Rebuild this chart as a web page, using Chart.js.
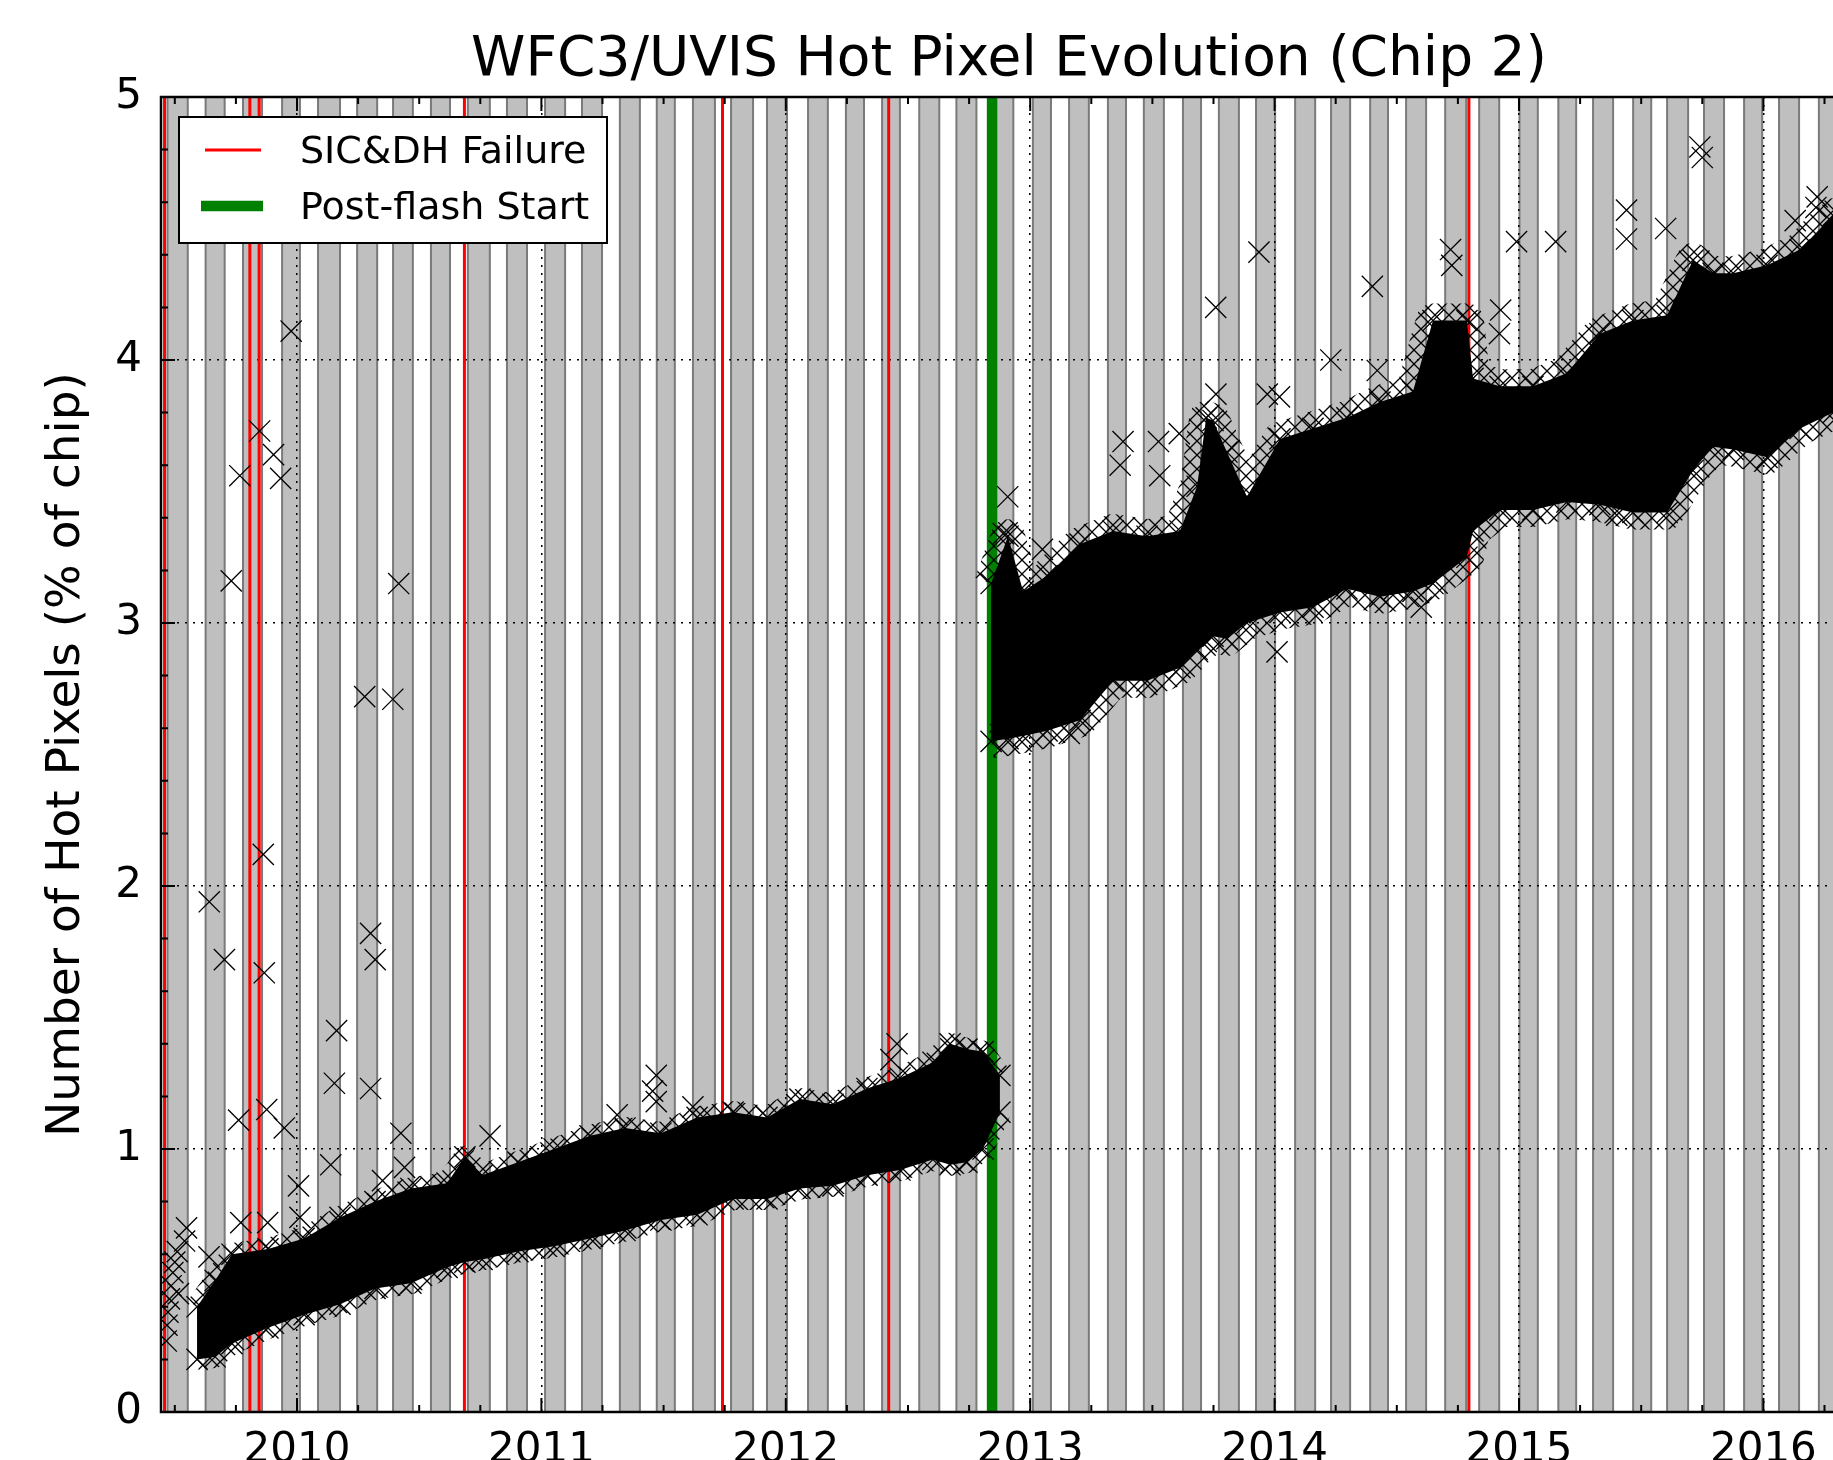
<!DOCTYPE html>
<html>
<head>
<meta charset="utf-8">
<script src="https://cdn.jsdelivr.net/npm/chart.js@4.4.0/dist/chart.umd.min.js"></script>
<style>
html, body { margin: 0; padding: 0; background: #fff; overflow: hidden; }
#chart { display: block; }
</style>
</head>
<body>
<canvas id="chart" width="2018" height="1520" style="width:2018px;height:1520px"></canvas>
<script>
const FONT = "'DejaVu Sans', 'Liberation Sans', sans-serif";

const yearTicks = [2010, 2011, 2012, 2013, 2014, 2015, 2016];
const valueTicks = [0, 1, 2, 3, 4, 5];

// shaded anneal cycles (every other cycle), decimal years
const annealStart = [2009.470, 2009.626, 2009.779, 2009.939, 2010.086, 2010.246, 2010.393, 2010.548, 2010.699,
  2010.859, 2011.015, 2011.166, 2011.321, 2011.472, 2011.620, 2011.776, 2011.923, 2012.091, 2012.246, 2012.394,
  2012.546, 2012.698, 2012.850, 2013.011, 2013.159, 2013.318, 2013.465, 2013.625, 2013.772, 2013.924, 2014.084,
  2014.231, 2014.391, 2014.538, 2014.698, 2014.837, 2015.002, 2015.161, 2015.303, 2015.467, 2015.606, 2015.757,
  2015.921, 2016.064, 2016.227];
const annealEnd = [2009.553, 2009.704, 2009.857, 2010.012, 2010.176, 2010.328, 2010.474, 2010.626, 2010.789,
  2010.941, 2011.097, 2011.248, 2011.403, 2011.546, 2011.710, 2011.866, 2012.005, 2012.172, 2012.320, 2012.467,
  2012.628, 2012.780, 2012.931, 2013.085, 2013.240, 2013.392, 2013.547, 2013.699, 2013.854, 2014.002, 2014.166,
  2014.309, 2014.464, 2014.620, 2014.784, 2014.919, 2015.077, 2015.234, 2015.385, 2015.541, 2015.692, 2015.839,
  2015.995, 2016.146, 2016.310];

const sicdhFailures = [2009.458, 2009.807, 2009.845, 2010.685, 2011.741, 2012.421, 2014.795];
const postFlashStart = [2012.844];

// dense band of measurements before post-flash: lower / upper edge
const preTime = [2009.591, 2009.665, 2009.734, 2009.881, 2010.029, 2010.176, 2010.319, 2010.466, 2010.614, 2010.687,
  2010.757, 2010.904, 2011.052, 2011.199, 2011.342, 2011.489, 2011.637, 2011.784, 2011.923, 2012.058,
  2012.193, 2012.332, 2012.467, 2012.602, 2012.672, 2012.741, 2012.807, 2012.876];
const preLow = [0.20, 0.21, 0.26, 0.32, 0.37, 0.41, 0.47, 0.49, 0.55, 0.57,
  0.58, 0.61, 0.63, 0.66, 0.69, 0.73, 0.75, 0.81, 0.81, 0.85,
  0.86, 0.90, 0.92, 0.96, 0.94, 0.95, 1.00, 1.14];
const preHigh = [0.40, 0.50, 0.60, 0.62, 0.66, 0.74, 0.80, 0.85, 0.87, 0.97,
  0.90, 0.95, 1.00, 1.05, 1.08, 1.06, 1.12, 1.14, 1.12, 1.19,
  1.17, 1.23, 1.27, 1.33, 1.40, 1.38, 1.37, 1.28];

// dense band after post-flash start
const postTime = [2012.840, 2012.909, 2012.971, 2013.069, 2013.204, 2013.339, 2013.478, 2013.613, 2013.683, 2013.720,
  2013.748, 2013.805, 2013.887, 2014.022, 2014.157, 2014.296, 2014.431, 2014.566, 2014.648, 2014.787,
  2014.812, 2014.922, 2015.057, 2015.196, 2015.331, 2015.466, 2015.606, 2015.712, 2015.794, 2015.876,
  2016.015, 2016.150, 2016.285, 2016.350];
const postLow = [2.55, 2.56, 2.57, 2.59, 2.63, 2.78, 2.78, 2.83, 2.90, 2.93,
  2.95, 2.94, 3.00, 3.04, 3.06, 3.13, 3.10, 3.12, 3.15, 3.25,
  3.35, 3.43, 3.43, 3.46, 3.45, 3.42, 3.42, 3.58, 3.67, 3.66,
  3.63, 3.74, 3.80, 3.82];
const postHigh = [3.15, 3.33, 3.12, 3.18, 3.30, 3.35, 3.33, 3.35, 3.52, 3.78,
  3.77, 3.65, 3.48, 3.70, 3.74, 3.78, 3.84, 3.88, 4.15, 4.15,
  3.93, 3.90, 3.90, 3.95, 4.10, 4.15, 4.17, 4.38, 4.33, 4.33,
  4.36, 4.42, 4.55, 4.55];

// isolated measurements
const outlierTime = [2009.465, 2009.468, 2009.472, 2009.478, 2009.485, 2009.492, 2009.500, 2009.510, 2009.515, 2009.540,
  2009.548, 2009.640, 2009.641, 2009.703, 2009.731, 2009.766, 2009.847, 2009.862, 2009.866, 2009.904,
  2009.933, 2009.976, 2010.416, 2010.277, 2010.392, 2010.301, 2010.320, 2010.162, 2010.153, 2010.301,
  2010.138, 2009.876, 2009.761, 2009.948, 2010.425, 2010.006, 2010.012, 2009.770, 2009.880, 2010.440,
  2010.350, 2010.790, 2011.310, 2011.470, 2011.470, 2011.455, 2011.620, 2012.455, 2012.430,
  2012.908, 2012.890, 2013.050, 2013.160, 2013.368, 2013.380, 2013.525, 2013.610, 2013.530, 2013.760,
  2013.759, 2013.936, 2013.970, 2014.020, 2014.010, 2014.230, 2014.400, 2014.420, 2014.490, 2014.600,
  2014.720, 2014.725, 2014.920, 2014.925, 2014.990, 2015.150, 2015.400, 2015.440, 2015.440, 2015.600,
  2015.740, 2015.750, 2016.130, 2016.220, 2016.215];
const outlierValue = [0.27, 0.33, 0.38, 0.43, 0.48, 0.53, 0.57, 0.61, 0.45, 0.65,
  0.70, 0.59, 1.94, 1.72, 3.16, 3.56, 3.73, 2.12, 1.67, 3.64,
  3.55, 4.11, 3.15, 2.72, 2.71, 1.82, 1.72, 1.45, 1.25, 1.23,
  0.94, 1.15, 1.11, 1.08, 1.06, 0.86, 0.74, 0.72, 0.72, 0.93,
  0.88, 1.05, 1.13, 1.28, 1.18, 1.22, 1.16, 1.40, 1.34,
  3.48, 3.34, 3.28, 2.58, 3.60, 3.69, 3.69, 3.72, 3.56, 3.87,
  4.20, 4.41, 3.87, 3.86, 2.89, 4.00, 4.28, 3.96, 3.13, 3.06,
  4.42, 4.36, 4.10, 4.19, 4.45, 4.45, 3.41, 4.57, 4.46, 4.50,
  4.81, 4.77, 4.53, 4.62, 4.58];

const xy = (ts, vs) => ts.map((t, i) => ({ x: t, y: vs[i] }));
const vLines = ts => ts.flatMap(t => [{ x: t, y: 0 }, { x: t, y: 5 }, { x: t, y: null }]);

// crossed-line texture for the fuzzy rim of the dense bands (overlapping x markers)
const hatchTile = document.createElement('canvas');
hatchTile.width = hatchTile.height = 14;
const hctx = hatchTile.getContext('2d');
hctx.strokeStyle = '#000';
hctx.lineWidth = 1.3;
hctx.beginPath();
hctx.moveTo(0, 0); hctx.lineTo(14, 14);
hctx.moveTo(14, 0); hctx.lineTo(0, 14);
hctx.stroke();
const rim = hctx.createPattern(hatchTile, 'repeat');

const cloudStyle = (width) => ({
  borderWidth: width,
  borderColor: rim,
  borderJoinStyle: 'round',
  backgroundColor: '#000',
  pointStyle: 'crossRot',
  pointRadius: 15,
  pointBorderColor: '#000',
  pointBorderWidth: 1.3,
  tension: 0,
  order: 5
});

// gray anneal bands under the grid
const bands = {
  id: 'bands',
  beforeDraw(chart) {
    const { ctx, chartArea: a, scales: { x } } = chart;
    ctx.save();
    ctx.beginPath();
    ctx.rect(a.left, a.top, a.right - a.left, a.bottom - a.top);
    ctx.clip();
    annealStart.forEach((s, i) => {
      const x0 = x.getPixelForValue(s), x1 = x.getPixelForValue(annealEnd[i]);
      ctx.fillStyle = '#bfbfbf';
      ctx.fillRect(x0, a.top, x1 - x0, a.bottom - a.top);
      ctx.strokeStyle = '#7a7a7a';
      ctx.lineWidth = 2;
      ctx.beginPath();
      ctx.moveTo(x0, a.top); ctx.lineTo(x0, a.bottom);
      ctx.moveTo(x1, a.top); ctx.lineTo(x1, a.bottom);
      ctx.stroke();
    });
    ctx.restore();
  }
};

// frame, inward ticks and the boxed legend
const frame = {
  id: 'frame',
  afterDraw(chart) {
    const { ctx, chartArea: a, scales: { x, y } } = chart;
    ctx.save();
    ctx.strokeStyle = '#000';
    ctx.lineWidth = 2;
    ctx.beginPath();
    const xTick = (v, len) => {
      const px = x.getPixelForValue(v);
      if (px < a.left || px > a.right) return;
      ctx.moveTo(px, a.bottom); ctx.lineTo(px, a.bottom - len);
      ctx.moveTo(px, a.top); ctx.lineTo(px, a.top + len);
    };
    const yTick = (v, len) => {
      const py = y.getPixelForValue(v);
      ctx.moveTo(a.left, py); ctx.lineTo(a.left + len, py);
      ctx.moveTo(a.right, py); ctx.lineTo(a.right - len, py);
    };
    [2009].concat(yearTicks).forEach(yr => {
      xTick(yr, 14);
      [0.25, 0.5, 0.75].forEach(q => xTick(yr + q, 7));
    });
    valueTicks.forEach(v => {
      yTick(v, 14);
      if (v < 5) [0.2, 0.4, 0.6, 0.8].forEach(q => yTick(v + q, 7));
    });
    ctx.stroke();
    ctx.lineWidth = 2.5;
    ctx.strokeRect(a.left, a.top, a.right - a.left, a.bottom - a.top);

    const ds = chart.data.datasets;
    const L = { x: a.left + 18, y: a.top + 20, w: 428, h: 126 };
    ctx.fillStyle = '#fff';
    ctx.fillRect(L.x, L.y, L.w, L.h);
    ctx.lineWidth = 2;
    ctx.strokeStyle = '#000';
    ctx.strokeRect(L.x, L.y, L.w, L.h);
    const rows = [
      { d: ds[0], x0: 26, x1: 82, y: 33 },
      { d: ds[1], x0: 22, x1: 84, y: 89 }
    ];
    ctx.font = '38px ' + FONT;
    ctx.textBaseline = 'middle';
    ctx.textAlign = 'left';
    rows.forEach(r => {
      ctx.strokeStyle = r.d.borderColor;
      ctx.lineWidth = r.d.borderWidth;
      ctx.beginPath();
      ctx.moveTo(L.x + r.x0, L.y + r.y);
      ctx.lineTo(L.x + r.x1, L.y + r.y);
      ctx.stroke();
      ctx.fillStyle = '#000';
      ctx.fillText(r.d.label, L.x + 121, L.y + r.y + 3);
    });
    ctx.restore();
  }
};

new Chart(document.getElementById('chart'), {
  type: 'line',
  data: {
    datasets: [
      { label: 'SIC&DH Failure', data: vLines(sicdhFailures), borderColor: '#ff0000', borderWidth: 3,
        pointRadius: 0, spanGaps: false, fill: false, order: 10 },
      { label: 'Post-flash Start', data: vLines(postFlashStart), borderColor: '#008000', borderWidth: 10.5,
        pointRadius: 0, spanGaps: false, fill: false, order: 9 },
      { label: 'pre low', data: xy(preTime, preLow), fill: false, ...cloudStyle(22) },
      { label: 'pre high', data: xy(preTime, preHigh), fill: '-1', ...cloudStyle(22) },
      { label: 'post low', data: xy(postTime, postLow), fill: false, ...cloudStyle(34) },
      { label: 'post high', data: xy(postTime, postHigh), fill: '-1', ...cloudStyle(34) },
      { label: 'outliers', data: xy(outlierTime, outlierValue), showLine: false, fill: false,
        pointStyle: 'crossRot', pointRadius: 15, pointBorderColor: '#000', pointBorderWidth: 1.3, order: 1 }
    ]
  },
  options: {
    responsive: false,
    animation: false,
    events: [],
    devicePixelRatio: 1,
    layout: { padding: { left: 0, right: 161, top: 0, bottom: 0 } },
    plugins: {
      legend: { display: false },
      tooltip: { enabled: false },
      title: {
        display: true,
        fullSize: false,
        text: 'WFC3/UVIS Hot Pixel Evolution (Chip 2)',
        color: '#000',
        font: { family: FONT, size: 55, weight: 'normal', lineHeight: 1.2 },
        padding: { top: 28, bottom: 3 }
      }
    },
    scales: {
      x: {
        type: 'linear',
        min: 2009.4435,
        max: 2016.383,
        afterBuildTicks: s => { s.ticks = yearTicks.map(v => ({ value: v })); },
        afterFit: s => { s.height = 108; },
        ticks: { color: '#000', font: { family: FONT, size: 42 }, padding: 14, maxRotation: 0, autoSkip: false,
          callback: v => String(v) },
        grid: { color: '#000', lineWidth: 1.5, drawTicks: false },
        border: { display: false, dash: [2, 6] }
      },
      y: {
        type: 'linear',
        min: 0,
        max: 5,
        afterBuildTicks: s => { s.ticks = valueTicks.map(v => ({ value: v })); },
        afterFit: s => { s.width = 161; },
        ticks: { color: '#000', font: { family: FONT, size: 42 }, padding: 19, callback: v => String(v) },
        grid: { color: '#000', lineWidth: 1.5, drawTicks: false },
        border: { display: false, dash: [2, 6] },
        title: { display: true, text: 'Number of Hot Pixels (% of chip)', color: '#000',
          font: { family: FONT, size: 47, lineHeight: 1.2 }, padding: { top: 39, bottom: 0 } }
      }
    }
  },
  plugins: [bands, frame]
});
</script>
</body>
</html>
